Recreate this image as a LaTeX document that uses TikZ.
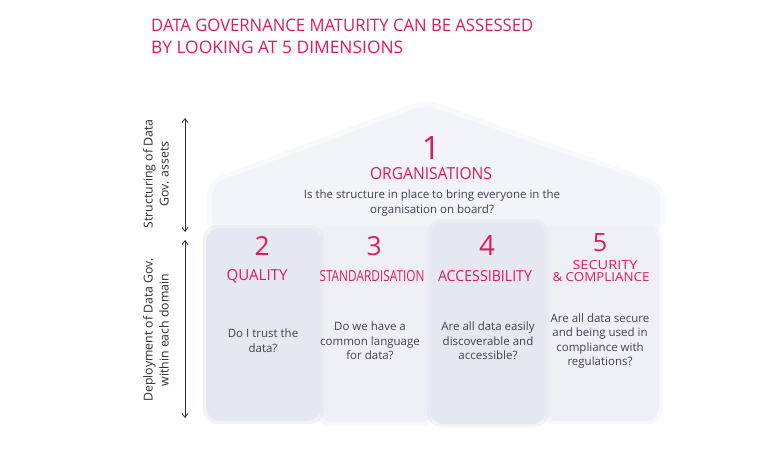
\documentclass[tikz,border=0pt]{standalone}
\usepackage{graphicx}
\usepackage{fontspec}
\setmainfont{Open Sans}
\usetikzlibrary{arrows.meta}
\definecolor{pinkc}{HTML}{DE1B5F}
\definecolor{qtext}{HTML}{3E4352}
\definecolor{roofc}{HTML}{F3F4F8}
\definecolor{colA}{HTML}{E5E8F0}
\definecolor{colB}{HTML}{EEF0F5}
\definecolor{inkc}{HTML}{2E2E33}
\newcommand{\pk}[3]{\resizebox{#1pt}{#2pt}{#3}}
\newcommand{\numh}[2]{\resizebox{!}{#1pt}{#2}}
\tikzset{
  pinklbl/.style={text=pinkc, inner sep=0pt, anchor=center},
  quest/.style={text=qtext, font=\fontsize{11.5}{14.6}\selectfont, align=center, inner sep=0pt},
  sidelbl/.style={text=inkc, font=\fontsize{12.3}{16}\selectfont, align=center, inner sep=0pt, rotate=90},
  colbox/.style={rounded corners=14pt},
  soft/.style={opacity=0.5},
  arr/.style={draw=inkc, line width=0.8pt, {Straight Barb[length=4pt,width=6pt]}-{Straight Barb[length=4pt,width=6pt]}},
}
\begin{document}
\begin{tikzpicture}[x=1pt,y=-1pt]
\useasboundingbox (0,0) rectangle (776,452);
\fill[white] (0,0) rectangle (776,452);
% roof (soft edge then core)
\fill[roofc, soft, rounded corners=16pt] (207,234) -- (207,181) -- (425,99) -- (665,184) -- (665,234) -- cycle;
\fill[roofc, rounded corners=12pt] (212,232) -- (212,184) -- (425,105) -- (660,187) -- (660,232) -- cycle;
% columns (soft edge then core)
\fill[colB, soft, colbox] (315,225) rectangle (437,425);
\fill[colB, colbox] (318,228) rectangle (434,422);
\fill[colB, soft, colbox] (540,225) rectangle (662,424);
\fill[colB, colbox] (543,228) rectangle (659,421);
\fill[colA, soft, colbox] (203,225) rectangle (324,424);
\fill[colA, colbox] (206,228) rectangle (321,421);
\fill[colA, soft, colbox] (427,219) rectangle (549,427);
\fill[colA, colbox] (430,222) rectangle (546,424);
% title
\node[pinklbl, anchor=west] (t1) at (151,25) {\pk{382}{12.5}{DATA GOVERNANCE MATURITY CAN BE ASSESSED}};
\node[pinklbl, anchor=west] (t2) at (151,47) {\pk{252}{12.5}{BY LOOKING AT 5 DIMENSIONS}};
% roof text
\node[pinklbl] (n1) at (431,148) {\numh{23}{1}};
\node[pinklbl] (h1) at (431,174) {\pk{122}{12}{ORGANISATIONS}};
\node[quest] (q1) at (432,203) {Is the structure in place to bring everyone in the\\organisation on board?};
% column 2
\node[pinklbl] (n2) at (262,246) {\numh{19}{2}};
\node[pinklbl] (h2) at (257,276) {\pk{61}{11}{QUALITY}};
\node[quest] (q2) at (263,341) {Do I trust the\\data?};
% column 3
\node[pinklbl] (n3) at (374,246) {\numh{19}{3}};
\node[pinklbl] (h3) at (372,276) {\pk{105}{11}{STANDARDISATION}};
\node[quest] (q3) at (370,341) {Do we have a\\common language\\for data?};
% column 4
\node[pinklbl] (n4) at (487,245) {\numh{20}{4}};
\node[pinklbl] (h4) at (485,276) {\pk{94}{11}{ACCESSIBILITY}};
\node[quest] (q4) at (488,341) {Are all data easily\\discoverable and\\accessible?};
% column 5
\node[pinklbl] (n5) at (600,243) {\numh{18}{5}};
\node[pinklbl] (h5a) at (605,265) {\pk{65}{9}{SECURITY}};
\node[pinklbl] (h5b) at (601,277) {\pk{97}{9}{\&\ COMPLIANCE}};
\node[quest] (q5) at (600,341) {Are all data secure\\and being used in\\compliance with\\regulations?};
% side labels and arrows
\coordinate (a1t) at (185,118);
\coordinate (a1b) at (185,232);
\coordinate (a2t) at (185,240);
\coordinate (a2b) at (185,418);
\draw[arr] (a1t) -- (a1b);
\draw[arr] (a2t) -- (a2b);
\node[sidelbl] (s1) at (156,174) {Structuring of Data\\Gov. assets};
\node[sidelbl] (s2) at (156,330) {Deployment of Data Gov.\\within each domain};
\end{tikzpicture}
\end{document}
